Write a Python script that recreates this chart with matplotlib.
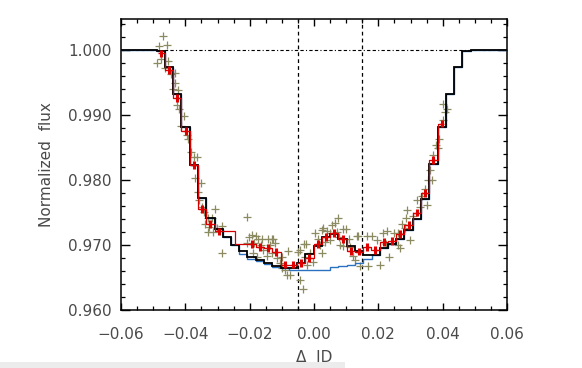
import matplotlib
matplotlib.use("Agg")
import matplotlib.pyplot as plt
from matplotlib.ticker import MultipleLocator, FixedLocator
from matplotlib.patches import Rectangle

# ---------------- data ----------------
bin_edges = [-0.0600, -0.0489, -0.0463, -0.0438, -0.0412, -0.0386, -0.0361, -0.0335,
             -0.0309, -0.0284, -0.0258, -0.0232, -0.0207, -0.0181, -0.0155, -0.0130,
             -0.0104, -0.0078, -0.0053, -0.0027, -0.0001, 0.0025, 0.0050, 0.0076,
             0.0102, 0.0127, 0.0153, 0.0179, 0.0204, 0.0230, 0.0256, 0.0281,
             0.0307, 0.0333, 0.0358, 0.0384, 0.0410, 0.0435, 0.0461, 0.0487, 0.0600]

model_spot = [1.0000, 0.9998, 0.9974, 0.9933, 0.9881, 0.9823, 0.9772, 0.9741,
              0.9724, 0.9712, 0.9700, 0.9691, 0.9682, 0.9677, 0.9672, 0.9667,
              0.9665, 0.9664, 0.9672, 0.9686, 0.9699, 0.9712, 0.9717, 0.9710,
              0.9699, 0.9691, 0.9685, 0.9685, 0.9695, 0.9701, 0.9710, 0.9723,
              0.9740, 0.9771, 0.9825, 0.9881, 0.9933, 0.9974, 0.9998, 1.0000]

model_nospot = [1.0000, 0.9998, 0.9974, 0.9933, 0.9881, 0.9823, 0.9772, 0.9741,
                0.9724, 0.9712, 0.9700, 0.9686, 0.9678, 0.9675, 0.9671, 0.9666,
                0.9664, 0.9662, 0.9661, 0.9661, 0.9661, 0.9661, 0.9666, 0.9668,
                0.9670, 0.9673, 0.9679, 0.9685, 0.9695, 0.9701, 0.9710, 0.9723,
                0.9740, 0.9771, 0.9825, 0.9881, 0.9933, 0.9974, 0.9998, 1.0000]

binned_x = [-0.0476, -0.0450, -0.0425, -0.0399, -0.0373, -0.0348, -0.0322, -0.0296,
            -0.0194, -0.0168, -0.0142, -0.0117, -0.0091, -0.0065, -0.0040, -0.0014,
            0.0012, 0.0037, 0.0063, 0.0089, 0.0114, 0.0140, 0.0166, 0.0191,
            0.0217, 0.0243, 0.0268, 0.0294, 0.0320, 0.0345, 0.0371, 0.0397]
binned_y = [0.9995, 0.9970, 0.9926, 0.9876, 0.9823, 0.9756, 0.9732, 0.9721,
            0.9701, 0.9697, 0.9695, 0.9689, 0.9670, 0.9670, 0.9672, 0.9680,
            0.9701, 0.9712, 0.9718, 0.9709, 0.9691, 0.9690, 0.9697, 0.9692,
            0.9705, 0.9706, 0.9717, 0.9731, 0.9750, 0.9780, 0.9831, 0.9887]

data_x = [-0.0468, -0.0482, -0.0458, -0.0477, -0.0453, -0.0487, -0.0463, -0.0445,
          -0.0432, -0.0432, -0.0439, -0.0422, -0.0427, -0.0419, -0.0404, -0.0414,
          -0.0396, -0.0391, -0.0383, -0.0373, -0.0363, -0.0370, -0.0352, -0.0362,
          -0.0357, -0.0347, -0.0341, -0.0308, -0.0329, -0.0318, -0.0339, -0.0325,
          -0.0329, -0.0315, -0.0301, -0.0287, -0.0287,
          -0.0209, -0.0201, -0.0194, -0.0181, -0.0186, -0.0173, -0.0166, -0.0189,
          -0.0178, -0.0158, -0.0142, -0.0131, -0.0137, -0.0121, -0.0131, -0.0147,
          -0.0116, -0.0100, -0.0106, -0.0080, -0.0100, -0.0085, -0.0209, -0.0163,
          -0.0127, -0.0090, -0.0075, -0.0049, -0.0031, -0.0044, -0.0033, -0.0044,
          -0.0025, -0.0028, -0.0021, -0.0012, -0.0002, 0.0003, 0.0013, 0.0019,
          0.0024, 0.0024, 0.0029, 0.0040, 0.0034, 0.0050, 0.0050, 0.0055,
          0.0065, 0.0076, 0.0071, 0.0079, 0.0091, 0.0098, 0.0081, 0.0090,
          0.0110, 0.0112, 0.0122, 0.0127, 0.0133, 0.0138, 0.0143, 0.0169,
          0.0164, 0.0179, 0.0205, 0.0197, 0.0215, 0.0226, 0.0224, 0.0234,
          0.0249, 0.0262, 0.0266, 0.0260, 0.0273, 0.0286, 0.0288, 0.0282,
          0.0298, 0.0309, 0.0319, 0.0330, 0.0335, 0.0345, 0.0350, 0.0353,
          0.0361, 0.0366, 0.0371, 0.0378, 0.0384, 0.0390, 0.0400, 0.0407,
          0.0412, 0.0402]
data_y = [1.0022, 1.0006, 1.0008, 0.9986, 0.9984, 0.9980, 0.9973, 0.9964,
          0.9965, 0.9949, 0.9940, 0.9938, 0.9915, 0.9910, 0.9899, 0.9883,
          0.9869, 0.9864, 0.9844, 0.9836, 0.9836, 0.9803, 0.9796, 0.9782,
          0.9769, 0.9759, 0.9751, 0.9755, 0.9741, 0.9741, 0.9733, 0.9728,
          0.9720, 0.9720, 0.9727, 0.9729, 0.9687,
          0.9743, 0.9712, 0.9715, 0.9714, 0.9703, 0.9709, 0.9700, 0.9687,
          0.9681, 0.9692, 0.9709, 0.9709, 0.9700, 0.9703, 0.9687, 0.9683,
          0.9680, 0.9682, 0.9672, 0.9691, 0.9664, 0.9654, 0.9703, 0.9709,
          0.9710, 0.9662, 0.9654, 0.9690, 0.9702, 0.9646, 0.9632, 0.9692,
          0.9702, 0.9682, 0.9669, 0.9687, 0.9674, 0.9719, 0.9710, 0.9700,
          0.9687, 0.9723, 0.9727, 0.9722, 0.9704, 0.9718, 0.9707, 0.9731,
          0.9734, 0.9741, 0.9720, 0.9712, 0.9724, 0.9724, 0.9700, 0.9698,
          0.9710, 0.9697, 0.9683, 0.9677, 0.9714, 0.9714, 0.9667, 0.9668,
          0.9714, 0.9714, 0.9669, 0.9708, 0.9718, 0.9721, 0.9702, 0.9681,
          0.9718, 0.9700, 0.9695, 0.9718, 0.9733, 0.9741, 0.9754, 0.9727,
          0.9708, 0.9745, 0.9769, 0.9759, 0.9775, 0.9787, 0.9761, 0.9800,
          0.9815, 0.9800, 0.9838, 0.9854, 0.9849, 0.9864, 0.9892, 0.9905,
          0.9910, 0.9917]

contact_lines = [-0.005, 0.015]
x_ticks = [-0.06, -0.04, -0.02, 0.00, 0.02, 0.04, 0.06]
x_ticklabels = ["\u22120.06", "\u22120.04", "\u22120.02", "0.00", "0.02", "0.04", "0.06"]
y_ticks = [0.960, 0.970, 0.980, 0.990, 1.000]
y_ticklabels = ["0.960", "0.970", "0.980", "0.990", "1.000"]

# ---------------- figure ----------------
plt.rcParams['font.family'] = ['DejaVu Sans']
fig = plt.figure(figsize=(5.82, 3.68), dpi=100)
ax = fig.add_axes([121/582, 58/368, 386/582, 291/368])

olive = '#8c8a60'
ax.plot(data_x, data_y, linestyle='none', marker='+', markersize=5.5,
        markeredgewidth=0.9, color=olive, zorder=2)

ax.stairs(model_nospot, bin_edges, baseline=None, color='#2a72c0', linewidth=1.0, zorder=3)
ax.stairs(model_spot, bin_edges, baseline=None, color='black', linewidth=1.3, zorder=4)

ax.plot(binned_x, binned_y, drawstyle='steps-mid', color='#d40000', linewidth=0.9, zorder=5)
ax.errorbar(binned_x, binned_y, yerr=0.0006, fmt='none', ecolor='#e00000',
            elinewidth=2.2, capsize=0, zorder=6)
ax.errorbar(binned_x, binned_y, xerr=0.0008, fmt='none', ecolor='#e00000',
            elinewidth=1.0, capsize=0, zorder=6)

ax.axhline(1.0, color='black', linewidth=0.8, linestyle=(0, (3, 2, 3, 2, 1, 2)), zorder=1)
for xv in contact_lines:
    ax.axvline(xv, color='black', linewidth=0.9, linestyle=(0, (3, 2.5)), zorder=1)

ax.set_xlim(-0.06, 0.06)
ax.set_ylim(0.960, 1.0048)

ax.xaxis.set_major_locator(FixedLocator(x_ticks))
ax.set_xticklabels(x_ticklabels)
ax.yaxis.set_major_locator(FixedLocator(y_ticks))
ax.set_yticklabels(y_ticklabels)
ax.xaxis.set_minor_locator(MultipleLocator(0.005))
ax.yaxis.set_minor_locator(MultipleLocator(0.002))

tick_color = '#4a4a4a'
ax.tick_params(axis='both', which='both', direction='in', top=True, right=True,
               colors='black', labelcolor=tick_color, labelsize=11)
ax.tick_params(axis='x', which='major', length=5, width=1.0, pad=12)
ax.tick_params(axis='y', which='major', length=6.5, width=1.0, pad=7)
ax.tick_params(axis='both', which='minor', length=3, width=0.9)

for sp in ax.spines.values():
    sp.set_linewidth(1.1)

ax.set_xlabel("\u0394  JD", fontsize=11, color=tick_color, labelpad=6)
ax.set_ylabel("Normalized  flux", fontsize=11, color=tick_color, labelpad=10)

fig.patches.append(Rectangle((0, 0), 345/582, 6/368, transform=fig.transFigure,
                             facecolor='#ececec', edgecolor='none', zorder=0))

fig.savefig("out.png", dpi=100)
